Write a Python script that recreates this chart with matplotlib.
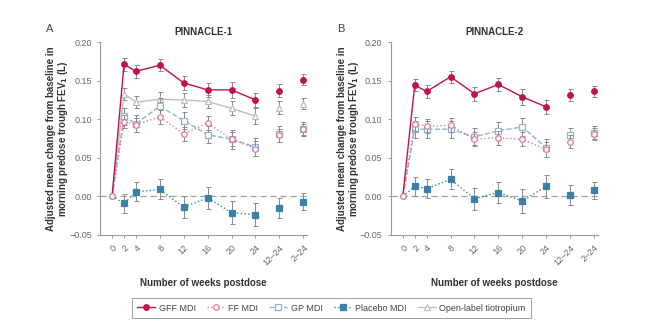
import matplotlib
matplotlib.use("Agg")
import matplotlib.pyplot as plt
import numpy as np

plt.rcParams['font.family'] = ['Liberation Sans', 'DejaVu Sans']

# week positions (12-24 and 2-24 are summary points at the right)
weeks = [0, 2, 4, 8, 12, 16, 20, 24, 28, 32]
tick_labels = ['0', '2', '4', '8', '12', '16', '20', '24', '12\u201324', '2\u201324']

# PINNACLE-1
gff_1 = [0, 0.171, 0.162, 0.170, 0.147, 0.138, 0.138, 0.125, 0.137, 0.151]
ff_1 = [0, 0.097, 0.093, 0.103, 0.081, 0.095, 0.074, 0.062, 0.079, 0.087]
gp_1 = [0, 0.104, 0.094, 0.117, 0.098, 0.080, 0.074, 0.064, 0.081, 0.087]
pbo_1 = [0, -0.009, 0.006, 0.009, -0.014, -0.002, -0.021, -0.024, -0.015, -0.007]
tio_1 = [0, 0.133, 0.122, 0.126, 0.125, 0.123, 0.114, 0.104, 0.115, 0.120]

# PINNACLE-2
gff_2 = [0, 0.144, 0.136, 0.155, 0.133, 0.145, 0.129, 0.116, 0.131, 0.136]
ff_2 = [0, 0.094, 0.091, 0.092, 0.074, 0.076, 0.074, 0.061, 0.071, 0.081]
gp_2 = [0, 0.087, 0.087, 0.087, 0.077, 0.085, 0.090, 0.063, 0.079, 0.082]
pbo_2 = [0, 0.013, 0.010, 0.022, -0.003, 0.005, -0.006, 0.013, 0.002, 0.008]

# standard errors (approx.)
se_gff = [0, 0.008, 0.008, 0.008, 0.009, 0.009, 0.010, 0.009, 0.008, 0.007]
se_ff = [0, 0.009, 0.009, 0.009, 0.009, 0.009, 0.009, 0.010, 0.008, 0.007]
se_gp = [0, 0.011, 0.011, 0.011, 0.011, 0.011, 0.012, 0.012, 0.010, 0.009]
se_pbo = [0, 0.012, 0.012, 0.013, 0.014, 0.014, 0.015, 0.015, 0.013, 0.011]
se_tio = [0, 0.008, 0.008, 0.009, 0.009, 0.009, 0.009, 0.010, 0.008, 0.007]

styles = {
    'GFF MDI': dict(color='#c0124a', marker='o', mfc='#c0124a', ls='-', lw=1.0),
    'FF MDI': dict(color='#e07a98', marker='o', mfc='white', ls=':', lw=1.0),
    'GP MDI': dict(color='#8fb4cc', marker='s', mfc='white', ls='--', lw=1.0),
    'Placebo MDI': dict(color='#3b80a8', marker='s', mfc='#3b80a8', ls=':', lw=1.0),
    'Open-label tiotropium': dict(color='#bdbdbd', marker='^', mfc='white', ls='-', lw=1.0),
}

fig = plt.figure(figsize=(6.46, 3.21), dpi=100)
axA = fig.add_axes([0.155, 0.268, 0.320, 0.601])
axB = fig.add_axes([0.605, 0.268, 0.320, 0.601])

x = np.array(weeks, dtype=float)


def draw(ax, name, y, se, z):
    st = styles[name]
    y = np.array(y)
    se = np.array(se)
    ax.errorbar(x[1:], y[1:], yerr=se[1:], fmt='none', ecolor='#8a8a8a',
                elinewidth=0.7, capsize=1.8, capthick=0.7, zorder=z - 1)
    ax.plot(x[:8], y[:8], color=st['color'], ls=st['ls'], lw=st['lw'], zorder=z)
    ax.plot(x[1:], y[1:], ls='none', marker=st['marker'], ms=4.0, mfc=st['mfc'],
            mec=st['color'], mew=0.9, zorder=z + 1)


for ax, data, title, letter in [
        (axA, [('Open-label tiotropium', tio_1, se_tio), ('GP MDI', gp_1, se_gp),
               ('FF MDI', ff_1, se_ff), ('Placebo MDI', pbo_1, se_pbo),
               ('GFF MDI', gff_1, se_gff)], 'PINNACLE-1', 'A'),
        (axB, [('GP MDI', gp_2, se_gp), ('FF MDI', ff_2, se_ff),
               ('Placebo MDI', pbo_2, se_pbo), ('GFF MDI', gff_2, se_gff)],
         'PINNACLE-2', 'B')]:
    ax.axhline(0, color='#a0a0a0', ls=(0, (5, 3)), lw=0.9, zorder=1)
    for i, (name, y, se) in enumerate(data):
        draw(ax, name, y, se, 3 + 3 * i)
    # shared baseline point at week 0
    ax.plot(x[0], ff_1[0], ls='none', marker='o', ms=4.0, mfc='white',
            mec='#c87a92', mew=0.9, zorder=30)
    ax.set_xlim(-2, 32.6)
    ax.set_ylim(-0.05, 0.20)
    ax.set_yticks([-0.05, 0, 0.05, 0.10, 0.15, 0.20])
    ax.set_yticklabels(['\u22120.05', '0.00', '0.05', '0.10', '0.15', '0.20'])
    ax.set_xticks(weeks)
    ax.set_xticklabels(tick_labels, rotation=45, ha='right', rotation_mode='anchor')
    for s in ['top', 'right']:
        ax.spines[s].set_visible(False)
    for s in ['left', 'bottom']:
        ax.spines[s].set_color('#9a9a9a')
        ax.spines[s].set_linewidth(0.8)
    ax.tick_params(colors='#9a9a9a', labelcolor='#666666', labelsize=6.5,
                   length=2.5, width=0.7)
    ax.set_xlabel('Number of weeks postdose', fontsize=7, fontweight='bold',
                  color='#333333', labelpad=8)
    ax.set_ylabel('Adjusted mean change from baseline in\nmorning predose trough FEV$_\\mathbf{1}$ (L)',
                  fontsize=7, fontweight='bold', color='#333333', labelpad=-1,
                  linespacing=1.0)
    ax.set_title(title, fontsize=7, fontweight='bold', color='#333333', pad=5)
    ax.text(-0.26, 1.07, letter, transform=ax.transAxes, fontsize=8, color='#444444',
            va='center')

handles = []
for name, st in styles.items():
    h, = axA.plot([], [], color=st['color'], ls=st['ls'], lw=st['lw'],
                  marker=st['marker'], ms=4.0, mfc=st['mfc'], mec=st['color'], mew=0.9)
    handles.append(h)
leg = fig.legend(handles, list(styles.keys()), loc='upper center',
                 bbox_to_anchor=(0.513, 0.085), ncol=5, fontsize=6.5, frameon=True,
                 fancybox=False, edgecolor='#888888', handlelength=2.0,
                 columnspacing=1.2, handletextpad=0.4, borderpad=0.6)
leg.get_frame().set_linewidth(0.7)
for t in leg.get_texts():
    t.set_color('#444444')

fig.savefig('out.png', dpi=100)
